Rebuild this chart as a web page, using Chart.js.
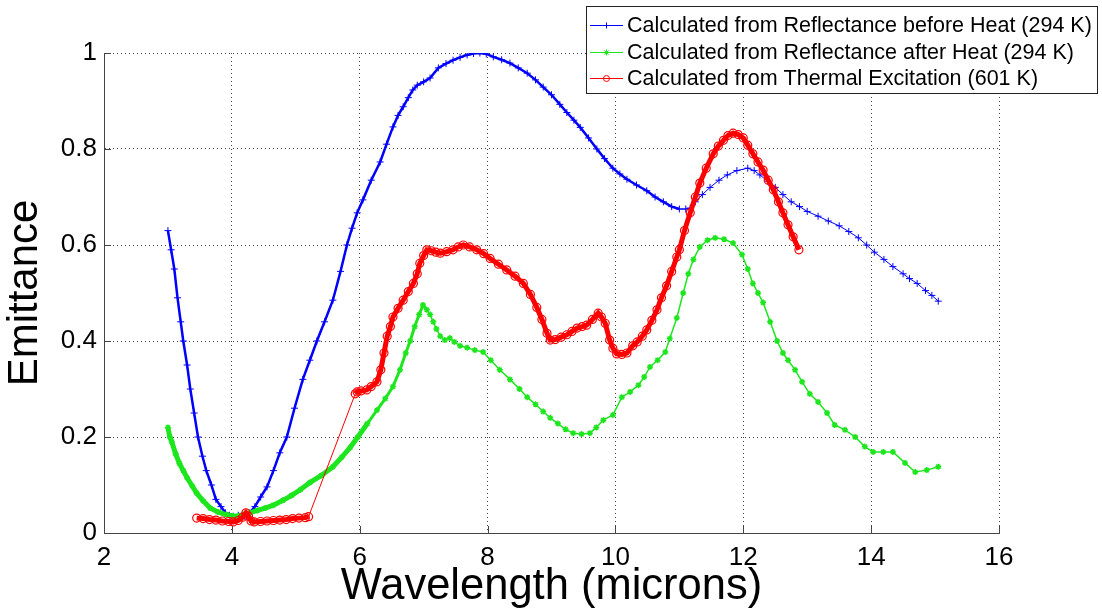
<!DOCTYPE html>
<html>
<head>
<meta charset="utf-8">
<script src="https://cdn.jsdelivr.net/npm/chart.js@4/dist/chart.umd.min.js"></script>
<style>
  body { margin: 0; background: #fff; }
  #wrap { width: 1102px; height: 613px; }
</style>
</head>
<body>
<div id="wrap"><canvas id="chart" width="1102" height="613"></canvas></div>
<script>
// Axis ticks
const xTicks = [2, 4, 6, 8, 10, 12, 14, 16];
const yTicks = [0, 0.2, 0.4, 0.6, 0.8, 1];

// Reflectance before heat (294 K)
const beforeX = [3.00, 3.05, 3.10, 3.15, 3.20, 3.24, 3.30, 3.35, 3.41, 3.47, 3.54, 3.60, 3.68, 3.75, 3.83, 3.90, 3.96, 4.02, 4.10,
  4.20, 4.28, 4.36, 4.45, 4.55, 4.65, 4.75, 4.86, 4.98, 5.11, 5.22, 5.33, 5.45, 5.58, 5.70, 5.80, 5.88, 5.96, 6.05, 6.18, 6.32,
  6.42, 6.52, 6.60, 6.68, 6.76, 6.83, 6.90, 7.00, 7.10, 7.23, 7.35, 7.46, 7.57, 7.68, 7.78, 7.88, 7.98, 8.09, 8.22, 8.35, 8.48,
  8.62, 8.75, 8.87, 9.00, 9.13, 9.24, 9.35, 9.45, 9.58, 9.71, 9.83, 9.96, 10.07, 10.18, 10.33, 10.49, 10.62, 10.75, 10.88, 11.00,
  11.10, 11.17, 11.25, 11.36, 11.48, 11.62, 11.75, 11.90, 12.07, 12.17, 12.26, 12.38, 12.50, 12.62, 12.75, 12.88, 13.00, 13.17,
  13.33, 13.50, 13.65, 13.80, 13.93, 14.05, 14.20, 14.34, 14.50, 14.60, 14.72, 14.85, 14.95, 15.05];
const beforeY = [0.63, 0.59, 0.55, 0.49, 0.44, 0.40, 0.35, 0.30, 0.25, 0.20, 0.16, 0.13, 0.10, 0.07, 0.055, 0.042, 0.037, 0.035, 0.037,
  0.035, 0.042, 0.055, 0.075, 0.096, 0.13, 0.167, 0.20, 0.26, 0.32, 0.36, 0.40, 0.44, 0.485, 0.545, 0.60, 0.635, 0.667, 0.694, 0.735, 0.773,
  0.81, 0.846, 0.87, 0.888, 0.907, 0.923, 0.933, 0.94, 0.948, 0.969, 0.978, 0.985, 0.991, 0.996, 0.999, 1.0, 0.998, 0.992, 0.986, 0.979, 0.969,
  0.958, 0.944, 0.929, 0.913, 0.893, 0.876, 0.86, 0.845, 0.823, 0.80, 0.78, 0.76, 0.748, 0.737, 0.725, 0.713, 0.70, 0.69, 0.68, 0.675,
  0.675, 0.677, 0.69, 0.705, 0.72, 0.735, 0.746, 0.755, 0.76, 0.755, 0.746, 0.733, 0.72, 0.705, 0.69, 0.68, 0.67, 0.66,
  0.65, 0.64, 0.628, 0.615, 0.60, 0.585, 0.57, 0.555, 0.54, 0.53, 0.52, 0.505, 0.495, 0.483];

// Reflectance after heat (294 K)
const afterX = [3.00, 3.03, 3.06, 3.12, 3.18, 3.24, 3.30, 3.38, 3.45, 3.55, 3.66, 3.78, 3.92, 4.02, 4.12, 4.20, 4.28, 4.40, 4.52, 4.65,
  4.80, 4.93, 5.07, 5.22, 5.40, 5.58, 5.72, 5.85, 5.97, 6.12, 6.27, 6.40, 6.52, 6.63, 6.72, 6.79, 6.86, 6.93, 6.99, 7.05, 7.10, 7.15,
  7.20, 7.26, 7.33, 7.41, 7.48, 7.57, 7.68, 7.80, 7.93, 8.05, 8.19, 8.35, 8.50, 8.62, 8.75, 8.87, 8.98, 9.10, 9.22, 9.34, 9.47, 9.60,
  9.70, 9.81, 9.96, 10.10, 10.23, 10.36, 10.45, 10.54, 10.66, 10.78, 10.85, 10.96, 11.06, 11.14, 11.22, 11.32, 11.44, 11.56, 11.70,
  11.84, 11.98, 12.07, 12.15, 12.23, 12.31, 12.42, 12.53, 12.62, 12.70, 12.81, 12.92, 13.04, 13.17, 13.31, 13.43, 13.59, 13.75, 13.90,
  14.03, 14.19, 14.34, 14.53, 14.69, 14.87, 15.05];
const afterY = [0.22, 0.20, 0.19, 0.165, 0.145, 0.13, 0.115, 0.098, 0.083, 0.067, 0.052, 0.044, 0.038, 0.035, 0.036, 0.04, 0.042, 0.047, 0.052, 0.058,
  0.068, 0.078, 0.09, 0.105, 0.12, 0.138, 0.158, 0.178, 0.20, 0.228, 0.256, 0.28, 0.305, 0.34, 0.375, 0.40, 0.43, 0.455, 0.475, 0.465, 0.455, 0.44,
  0.425, 0.41, 0.402, 0.406, 0.398, 0.39, 0.386, 0.381, 0.377, 0.36, 0.34, 0.32, 0.30, 0.283, 0.268, 0.253, 0.24, 0.228, 0.216, 0.208, 0.206, 0.208,
  0.22, 0.235, 0.246, 0.283, 0.294, 0.308, 0.325, 0.346, 0.36, 0.377, 0.405, 0.448, 0.50, 0.54, 0.57, 0.596, 0.61, 0.615, 0.612,
  0.604, 0.58, 0.55, 0.52, 0.50, 0.48, 0.44, 0.40, 0.375, 0.36, 0.34, 0.315, 0.29, 0.273, 0.25, 0.225, 0.215, 0.20, 0.18,
  0.169, 0.169, 0.169, 0.146, 0.127, 0.131, 0.138];

// Thermal excitation (601 K)
const thermalX = [3.45, 3.55, 3.65, 3.75, 3.85, 3.95, 4.02, 4.10, 4.17, 4.22, 4.26, 4.30, 4.35, 4.45, 4.55, 4.65, 4.75, 4.85, 4.95, 5.05,
  5.15, 5.20, 5.93, 5.96, 6.02, 6.11, 6.18, 6.27, 6.33, 6.38, 6.43, 6.48, 6.52, 6.60, 6.68, 6.76, 6.84, 6.90, 6.94, 7.00, 7.05, 7.12,
  7.19, 7.26, 7.36, 7.46, 7.54, 7.62, 7.72, 7.83, 7.94, 8.04, 8.17, 8.30, 8.43, 8.56, 8.67, 8.77, 8.85, 8.93, 8.98, 9.06, 9.15, 9.24,
  9.32, 9.40, 9.48, 9.55, 9.64, 9.73, 9.78, 9.84, 9.91, 9.96, 10.02, 10.10, 10.18, 10.27, 10.34, 10.42, 10.49, 10.57, 10.65, 10.72,
  10.80, 10.88, 10.96, 11.00, 11.08, 11.17, 11.25, 11.32, 11.42, 11.53, 11.61, 11.69, 11.76, 11.84, 11.92, 12.00, 12.07, 12.15,
  12.23, 12.31, 12.39, 12.47, 12.55, 12.62, 12.70, 12.78, 12.87];
const thermalY = [0.031, 0.030, 0.028, 0.027, 0.025, 0.024, 0.023, 0.026, 0.033, 0.042, 0.035, 0.025, 0.023, 0.024, 0.025, 0.026, 0.027, 0.028, 0.030, 0.031,
  0.032, 0.034, 0.29, 0.294, 0.296, 0.298, 0.305, 0.315, 0.34, 0.375, 0.41, 0.43, 0.45, 0.468, 0.485, 0.503, 0.52, 0.54, 0.562, 0.578, 0.59, 0.588,
  0.585, 0.583, 0.586, 0.59, 0.596, 0.60, 0.596, 0.59, 0.582, 0.572, 0.56, 0.548, 0.535, 0.52, 0.497, 0.47, 0.445, 0.416, 0.402, 0.403, 0.408, 0.413,
  0.42, 0.427, 0.43, 0.433, 0.445, 0.458, 0.45, 0.437, 0.402, 0.385, 0.373, 0.372, 0.375, 0.39, 0.398, 0.41, 0.423, 0.443, 0.465, 0.49,
  0.515, 0.545, 0.575, 0.59, 0.63, 0.667, 0.70, 0.729, 0.76, 0.79, 0.806, 0.818, 0.828, 0.833, 0.83, 0.823, 0.808, 0.79,
  0.773, 0.756, 0.735, 0.715, 0.69, 0.667, 0.642, 0.617, 0.59];

const seriesNames = [
  'Calculated from Reflectance before Heat (294 K)',
  'Calculated from Reflectance after Heat (294 K)',
  'Calculated from Thermal Excitation (601 K)'
];
const BLUE = '#0000ff', GREEN = '#1ee61e', RED = '#ff0000';
const FONT = 'Arial, "Liberation Sans", sans-serif';

function toPoints(xs, ys) {
  return xs.map((x, i) => ({ x: x, y: ys[i] }));
}

// white background, inward tick marks and the boxed legend
const extras = {
  id: 'extras',
  beforeDraw(chart) {
    const ctx = chart.ctx;
    ctx.save();
    ctx.fillStyle = '#fff';
    ctx.fillRect(0, 0, chart.width, chart.height);
    ctx.restore();
  },
  afterDraw(chart) {
    const ctx = chart.ctx;
    const xs = chart.scales.x, ys = chart.scales.y;
    const area = chart.chartArea;
    ctx.save();
    ctx.strokeStyle = '#444';
    ctx.lineWidth = 1;
    ctx.beginPath();
    xTicks.forEach(v => {
      const px = Math.round(xs.getPixelForValue(v)) + 0.5;
      ctx.moveTo(px, area.bottom);
      ctx.lineTo(px, area.bottom - 7);
    });
    yTicks.forEach(v => {
      const py = Math.round(ys.getPixelForValue(v)) + 0.5;
      ctx.moveTo(area.left, py);
      ctx.lineTo(area.left + 7, py);
    });
    ctx.stroke();

    // legend
    const lx = 586.5, ly = 6.5, lw = 511, lh = 87;
    ctx.fillStyle = '#fff';
    ctx.fillRect(lx, ly, lw, lh);
    ctx.strokeStyle = '#222';
    ctx.strokeRect(lx, ly, lw, lh);
    const rows = [25, 52, 78];
    chart.data.datasets.forEach((ds, i) => {
      const y = rows[i];
      ctx.strokeStyle = ds.borderColor;
      ctx.fillStyle = ds.backgroundColor;
      ctx.lineWidth = 1;
      ctx.beginPath();
      ctx.moveTo(590, y + 0.5);
      ctx.lineTo(623, y + 0.5);
      ctx.stroke();
      Chart.helpers.drawPoint(ctx, {
        pointStyle: ds.pointStyle, radius: 3, borderWidth: 1, rotation: 0
      }, 606.5, y + 0.5);
      ctx.fillStyle = '#000';
      ctx.font = '21.5px ' + FONT;
      ctx.textBaseline = 'middle';
      ctx.fillText(ds.label, 627, y + 1);
    });
    ctx.restore();
  }
};

new Chart(document.getElementById('chart'), {
  type: 'line',
  data: {
    datasets: [
      {
        label: seriesNames[0],
        data: toPoints(beforeX, beforeY),
        borderColor: BLUE, backgroundColor: BLUE,
        borderWidth: 1, pointStyle: 'cross', pointRadius: 3.5, pointBorderWidth: 1,
        segment: {
          // markers crowd together where the samples are dense
          borderWidth: ctx => (ctx.p0.parsed.x < 11 ? 2.5 : 1)
        },
        order: 2
      },
      {
        label: seriesNames[1],
        data: toPoints(afterX, afterY),
        borderColor: GREEN, backgroundColor: GREEN,
        borderWidth: 1.5, pointStyle: 'star', pointRadius: 3, pointBorderWidth: 1.5,
        segment: {
          borderWidth: ctx => {
            const x = ctx.p0.parsed.x;
            return x < 6.0 ? 5 : (x < 7.0 ? 3 : 1.5);
          }
        },
        order: 1
      },
      {
        label: seriesNames[2],
        data: toPoints(thermalX, thermalY),
        borderColor: RED, backgroundColor: 'rgba(0,0,0,0)',
        borderWidth: 1, pointStyle: 'circle', pointRadius: 4, pointBorderWidth: 1.2,
        segment: {
          borderWidth: ctx => (ctx.p1.parsed.x - ctx.p0.parsed.x > 0.5 ? 1 : 5)
        },
        order: 0
      }
    ]
  },
  options: {
    responsive: false,
    animation: false,
    layout: { padding: { left: 0, top: 53, right: 103, bottom: 0 } },
    plugins: { legend: { display: false }, tooltip: { enabled: false } },
    elements: { line: { tension: 0 } },
    scales: {
      x: {
        type: 'linear', min: 2, max: 16,
        afterFit: s => { s.height = 80; },
        afterBuildTicks: s => { s.ticks = xTicks.map(v => ({ value: v })); },
        ticks: { color: '#000', padding: 9, font: { family: FONT, size: 26 }, maxRotation: 0, callback: v => String(v) },
        grid: { color: '#444', drawTicks: false },
        border: { color: '#444', dash: [1, 3] },
        title: { display: true, text: 'Wavelength (microns)', color: '#000', padding: 0, font: { family: FONT, size: 43.5 } }
      },
      y: {
        type: 'linear', min: 0, max: 1,
        afterFit: s => { s.width = 104; },
        afterBuildTicks: s => { s.ticks = yTicks.map(v => ({ value: v })); },
        ticks: { color: '#000', padding: 7, font: { family: FONT, size: 26 }, callback: v => String(v) },
        grid: { color: '#444', drawTicks: false },
        border: { color: '#444', dash: [1, 3] },
        title: { display: true, text: 'Emittance', color: '#000', padding: 0, font: { family: FONT, size: 42 } }
      }
    }
  },
  plugins: [extras]
});
</script>
</body>
</html>
